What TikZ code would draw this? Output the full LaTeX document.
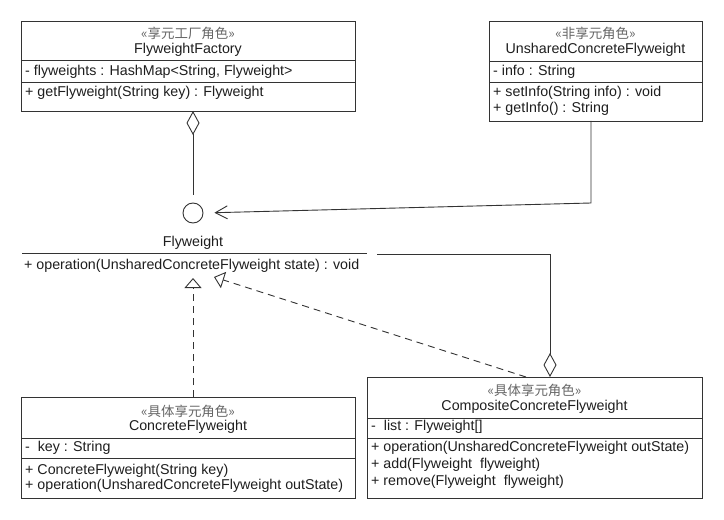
\documentclass[tikz,border=0pt]{standalone}
\usepackage{fontspec}
\setmainfont{Liberation Sans}
\newfontfamily\cjk{Noto Sans CJK SC}
\usetikzlibrary{arrows.meta}
\definecolor{lin}{HTML}{333333}
\definecolor{ster}{HTML}{666666}
\definecolor{txt}{HTML}{1E1E1E}
\tikzset{
  box/.style={draw=lin, line width=0.9bp, anchor=north west, inner sep=0, outer sep=0},
  sep/.style={draw=lin, line width=0.9bp},
  lbl/.style={anchor=west, inner sep=0, text=txt, font=\fontsize{14.3}{17}\selectfont},
  ctr/.style={anchor=center, inner sep=0, text=txt, font=\fontsize{14.3}{17}\selectfont},
  stereo/.style={anchor=center, inner sep=0, text=ster, font=\cjk\fontsize{13.5}{16}\selectfont},
  conn/.style={draw=lin, line width=0.9bp},
  dashconn/.style={conn, dash pattern=on 7bp off 5bp},
  aggr/.style={{Diamond[open,length=24bp,width=13bp]}-},
  real/.style={-{Triangle[open,length=10bp,width=17bp]}},
  assoc/.style={-{Straight Barb[length=12bp,width=13bp]}}
}
\begin{document}
\begin{tikzpicture}[x=1bp,y=-1bp]
\useasboundingbox[fill=white] (0,0) rectangle (724,520);

% FlyweightFactory
\node[box, minimum width=334bp, minimum height=90bp] (factory) at (21,21) {};
\draw[sep] (factory.west |- 0,60) -- (factory.east |- 0,60);
\draw[sep] (factory.west |- 0,82) -- (factory.east |- 0,82);
\node[stereo] (factoryst) at (188,33) {«享元工厂角色»};
\node[ctr] (factoryname) at (188,50) {FlyweightFactory};
\node[lbl] (factoryattr) at (25,71.5) {- flyweights : HashMap<String, Flyweight>};
\node[lbl] (factoryop) at (25,93) {+ getFlyweight(String key) : Flyweight};

% UnsharedConcreteFlyweight
\node[box, minimum width=213bp, minimum height=100bp] (unshared) at (489,21) {};
\draw[sep] (unshared.west |- 0,61) -- (unshared.east |- 0,61);
\draw[sep] (unshared.west |- 0,82) -- (unshared.east |- 0,82);
\node[stereo] (unsharedst) at (595.5,33) {«非享元角色»};
\node[ctr] (unsharedname) at (595.5,50) {UnsharedConcreteFlyweight};
\node[lbl] (unsharedattr) at (493,71.5) {- info : String};
\node[lbl] (unsharedop1) at (493,93) {+ setInfo(String info) : void};
\node[lbl] (unsharedop2) at (493,109) {+ getInfo() : String};

% Flyweight interface
\node[circle, draw=lin, line width=0.9bp, minimum size=20bp, inner sep=0] (iface) at (193,213) {};
\node[ctr] (ifacename) at (193,243) {Flyweight};
\draw[sep] (22,253) coordinate (flyl) -- (367,253) coordinate (flyr);
\node[lbl] (ifaceop) at (24,266) {+ operation(UnsharedConcreteFlyweight state) : void};

% ConcreteFlyweight
\node[box, minimum width=334bp, minimum height=101bp] (concrete) at (21,397) {};
\draw[sep] (concrete.west |- 0,438) -- (concrete.east |- 0,438);
\draw[sep] (concrete.west |- 0,458) -- (concrete.east |- 0,458);
\node[stereo] (concretest) at (188,411) {«具体享元角色»};
\node[ctr] (concretename) at (188,427) {ConcreteFlyweight};
\node[lbl] (concreteattr) at (25,448) {-\ \ key : String};
\node[lbl] (concreteop1) at (25,471) {+ ConcreteFlyweight(String key)};
\node[lbl] (concreteop2) at (25,486) {+ operation(UnsharedConcreteFlyweight outState)};

% CompositeConcreteFlyweight
\node[box, minimum width=335bp, minimum height=121bp] (composite) at (367,377) {};
\draw[sep] (composite.west |- 0,418) -- (composite.east |- 0,418);
\draw[sep] (composite.west |- 0,438) -- (composite.east |- 0,438);
\node[stereo] (compositest) at (534.5,390) {«具体享元角色»};
\node[ctr] (compositename) at (534.5,407) {CompositeConcreteFlyweight};
\node[lbl] (compositeattr) at (371,427) {-\ \ list : Flyweight[]};
\node[lbl] (compositeop1) at (371,448) {+ operation(UnsharedConcreteFlyweight outState)};
\node[lbl] (compositeop2) at (371,465) {+ add(Flyweight\ \ flyweight)};
\node[lbl] (compositeop3) at (371,482) {+ remove(Flyweight\ \ flyweight)};

% connector coordinates
\coordinate (ubend) at (591,203);
\coordinate (tip1) at (193,278);
\coordinate (tip2) at (214,277);
\coordinate (cfoot) at (193,397);
\coordinate (compfoot) at (526,377);
\coordinate (aggfoot) at (550,377);
\coordinate (aggleft) at (377,254);

% connectors
\draw[conn, aggr, shorten >=8bp] (factory.south -| iface) -- (iface.north);
\draw[conn, assoc, shorten >=11bp] (ubend |- unshared.south) -- (ubend) -- (iface.east);
\draw[dashconn, real] (cfoot) -- (tip1);
\draw[dashconn, real] (compfoot) -- (tip2);
\draw[conn, aggr] (aggfoot) -- (aggfoot |- aggleft) -- (aggleft);
\end{tikzpicture}
\end{document}
